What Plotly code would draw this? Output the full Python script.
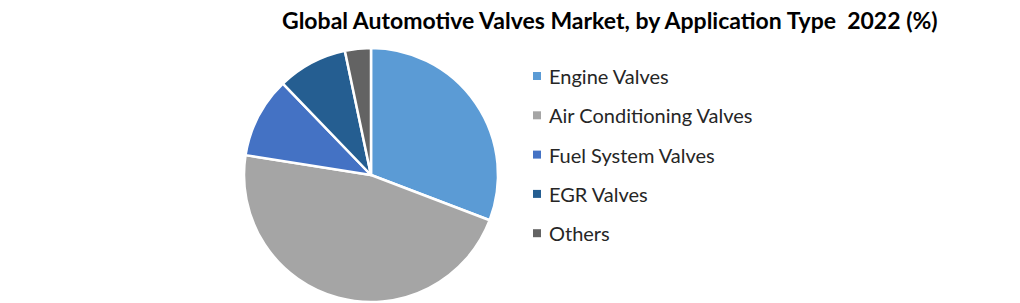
import plotly.graph_objects as go

labels = ["Engine Valves", "Air Conditioning Valves", "Fuel System Valves", "EGR Valves", "Others"]
values = [30.8, 46.7, 10.3, 8.9, 3.3]
colors = ["#5B9BD5", "#A5A5A5", "#4472C4", "#255E91", "#636363"]
title = "Global Automotive Valves Market, by Application Type  2022 (%)"

W, H = 1020, 303

fig = go.Figure(go.Pie(
    labels=labels, values=values, sort=False, direction="clockwise", rotation=0,
    marker=dict(colors=colors, line=dict(color="white", width=2.5)),
    textinfo="none", hoverinfo="label+percent", showlegend=False,
    domain=dict(x=[244 / W, 498 / W], y=[1 - 302 / H, 1 - 48 / H]),
))

# legend drawn as shapes + annotations
lx, ly0, dy = 533, 76, 39.3
for i, (lab, col) in enumerate(zip(labels, colors)):
    yc = ly0 + i * dy
    fig.add_shape(type="rect", xref="paper", yref="paper",
                  x0=lx / W, x1=(lx + 8) / W, y0=1 - (yc + 4) / H, y1=1 - (yc - 4) / H,
                  fillcolor=col, line=dict(width=0))
    fig.add_annotation(text=lab, xref="paper", yref="paper", x=(lx + 14) / W, y=1 - yc / H,
                       xanchor="left", yanchor="middle", showarrow=False,
                       font=dict(family="Lato, Open Sans, sans-serif", size=20, color="#262626"))

fig.add_annotation(text="<b>" + title + "</b>", xref="paper", yref="paper", x=610 / W, y=1 - 20 / H,
                   xanchor="center", yanchor="middle", showarrow=False,
                   font=dict(family="Lato, Open Sans, sans-serif", size=23, color="black"))

fig.update_layout(width=W, height=H, margin=dict(l=0, r=0, t=0, b=0),
                  paper_bgcolor="white", plot_bgcolor="white")
fig.write_html("out.html")
